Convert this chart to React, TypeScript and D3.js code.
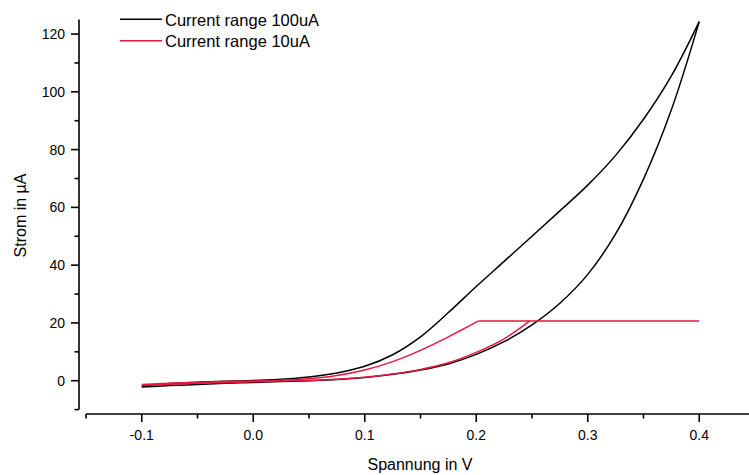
import React from "react";
import * as d3 from "d3";

// Voltage (V), current (µA) pairs
const blackForward: [number, number][] = [
  [-0.1, -2.2], [-0.075, -1.7], [-0.05, -1.3], [-0.025, -0.9], [0, -0.6], [0.025, -0.3], [0.05, 0.0],
  [0.075, 0.4], [0.1, 1.1], [0.125, 2.2], [0.15, 3.7], [0.175, 5.8], [0.2, 9.1],
  [0.225, 13.5], [0.25, 19.3], [0.275, 26.8], [0.3, 36.8], [0.325, 50.8],
  [0.35, 69.8], [0.375, 93.8], [0.4, 124.3],
];
const blackReturn: [number, number][] = [
  [0.4, 124.3], [0.375, 105.5], [0.35, 90.5], [0.325, 78.0], [0.3, 67.7], [0.275, 58.8],
  [0.25, 50.0], [0.225, 41.3], [0.2, 32.6], [0.175, 23.6], [0.15, 15.2], [0.125, 9.0],
  [0.1, 5.0], [0.075, 2.7], [0.05, 1.3], [0.025, 0.5], [0, 0.1],
  [-0.025, -0.2], [-0.05, -0.5], [-0.075, -1.0], [-0.1, -1.8],
];
const redForward: [number, number][] = [
  [-0.1, -1.6], [-0.075, -1.2], [-0.05, -0.9], [-0.025, -0.6], [0, -0.4], [0.025, -0.1], [0.05, 0.1],
  [0.075, 0.5], [0.1, 1.2], [0.125, 2.3], [0.15, 3.9], [0.175, 6.2], [0.2, 9.8],
  [0.225, 14.5], [0.248, 20.7],
];
const redPlateau: [number, number][] = [
  [0.248, 20.7], [0.4, 20.7], [0.202, 20.7],
];
const redReturn: [number, number][] = [
  [0.202, 20.7], [0.185, 17.2], [0.17, 14.2], [0.15, 10.5], [0.125, 6.6], [0.1, 3.7],
  [0.075, 1.8], [0.05, 0.7], [0.025, 0.2], [0, -0.1], [-0.025, -0.3], [-0.05, -0.6],
  [-0.075, -0.9], [-0.1, -1.3],
];

const xMajorTicks = [-0.1, 0, 0.1, 0.2, 0.3, 0.4];
const xMinorTicks = [-0.15, -0.05, 0.05, 0.15, 0.25, 0.35];
const yMajorTicks = [0, 20, 40, 60, 80, 100, 120];
const yMinorTicks = [-10, 10, 30, 50, 70, 90, 110];

const legendLabels = ["Current range 100uA", "Current range 10uA"];
const seriesColors = ["#000000", "#e8173f"];

const W = 749;
const H = 475;
const FONT = "'Liberation Sans', Arial, Helvetica, sans-serif";

export default function App() {
  const x = d3.scaleLinear().domain([-0.15, 0.45]).range([86, 755]);
  const y = d3.scaleLinear().domain([-10, 125]).range([409.6, 19.6]);
  const yAxisX = 79;
  const xAxisY = 414;

  const curve = d3
    .line<[number, number]>()
    .x((d) => x(d[0]))
    .y((d) => y(d[1]))
    .curve(d3.curveCatmullRom.alpha(0.5));
  const straight = d3
    .line<[number, number]>()
    .x((d) => x(d[0]))
    .y((d) => y(d[1]));

  const fmt = (v: number) => v.toFixed(1);

  return (
    <svg
      width={W}
      height={H}
      style={{ position: "absolute", left: 0, top: 0, background: "#fff" }}
      fontFamily={FONT}
    >
      <rect width={W} height={H} fill="#fff" />
      {/* Y axis */}
      <line x1={yAxisX} x2={yAxisX} y1={y(-10)} y2={y(125)} stroke="#000" strokeWidth={1.6} />
      {yMajorTicks.map((t) => (
        <g key={"ym" + t}>
          <line x1={yAxisX - 8} x2={yAxisX} y1={y(t)} y2={y(t)} stroke="#000" strokeWidth={1.6} />
          <text x={65} y={y(t)} dy="0.36em" textAnchor="end" fontSize={14} fill="#000">
            {t}
          </text>
        </g>
      ))}
      {yMinorTicks.map((t) => (
        <line key={"yn" + t} x1={yAxisX - 4.5} x2={yAxisX} y1={y(t)} y2={y(t)} stroke="#000" strokeWidth={1.6} />
      ))}
      {/* X axis */}
      <line x1={x(-0.15)} x2={x(0.45)} y1={xAxisY} y2={xAxisY} stroke="#000" strokeWidth={1.6} />
      {xMajorTicks.map((t) => (
        <g key={"xm" + t}>
          <line x1={x(t)} x2={x(t)} y1={xAxisY} y2={xAxisY + 8} stroke="#000" strokeWidth={1.6} />
          <text x={x(t)} y={440} textAnchor="middle" fontSize={14} fill="#000">
            {fmt(t)}
          </text>
        </g>
      ))}
      {xMinorTicks.map((t) => (
        <line key={"xn" + t} x1={x(t)} x2={x(t)} y1={xAxisY} y2={xAxisY + 4.5} stroke="#000" strokeWidth={1.6} />
      ))}
      {/* Axis titles */}
      <text x={420} y={470} textAnchor="middle" fontSize={16} fill="#000">
        Spannung in V
      </text>
      <text
        transform={`translate(25.5,215.5) rotate(-90)`}
        textAnchor="middle"
        fontSize={16}
        fill="#000"
      >
        Strom in µA
      </text>
      {/* Data */}
      <path d={curve(blackForward) || ""} fill="none" stroke={seriesColors[0]} strokeWidth={1.5} />
      <path d={curve(blackReturn) || ""} fill="none" stroke={seriesColors[0]} strokeWidth={1.5} />
      <path d={curve(redForward) || ""} fill="none" stroke={seriesColors[1]} strokeWidth={1.5} />
      <path d={straight(redPlateau) || ""} fill="none" stroke={seriesColors[1]} strokeWidth={1.5} />
      <path d={curve(redReturn) || ""} fill="none" stroke={seriesColors[1]} strokeWidth={1.5} />
      {/* Legend */}
      {legendLabels.map((label, i) => (
        <g key={label} transform={`translate(120,${19.3 + i * 21.4})`}>
          <line x1={0} x2={42} y1={0} y2={0} stroke={seriesColors[i]} strokeWidth={1.5} />
          <text x={45} y={0} dy="0.4em" fontSize={16.5} fill="#000">
            {label}
          </text>
        </g>
      ))}
    </svg>
  );
}
